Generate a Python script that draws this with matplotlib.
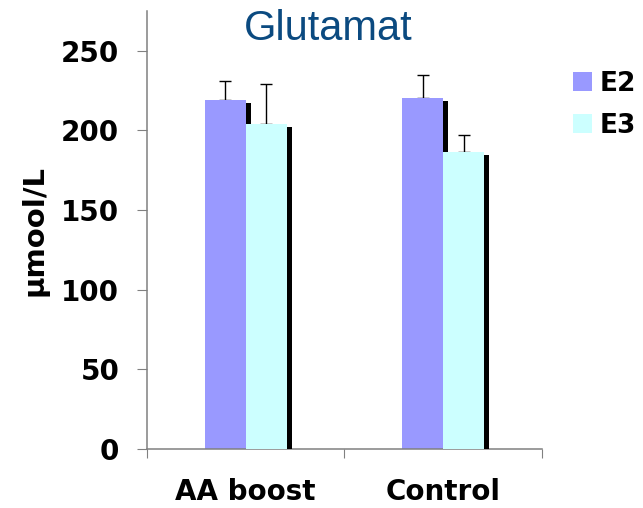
import matplotlib.pyplot as plt
import matplotlib.transforms as transforms
import numpy as np

# Data
categories = ['AA boost', 'Control']
series = ['E2', 'E3']
e2_values = [219, 220.5]
e3_values = [204, 186.5]
e2_err = [12, 14.5]
e3_err = [25, 10.5]
colors = ['#9999FF', '#CCFFFF']

fig = plt.figure(figsize=(6.43, 5.08), dpi=100)
ax = fig.add_axes([0.2286, 0.1161, 0.6143, 0.8622])

x = np.arange(len(categories))
width = 0.208

# Shadow offset: a few pixels right and down
shadow = ax.transData + transforms.ScaledTranslation(5 / 100, -3 / 100, fig.dpi_scale_trans)

for i, (vals, errs, col) in enumerate([(e2_values, e2_err, colors[0]), (e3_values, e3_err, colors[1])]):
    pos = x + (i - 0.5) * width
    ax.bar(pos, vals, width, color='black', transform=shadow, zorder=1 + 2 * i)
    ax.bar(pos, vals, width, color=col, label=series[i], zorder=2 + 2 * i)
    ax.errorbar(pos, vals, yerr=[np.zeros(len(vals)), errs], fmt='none',
                ecolor='black', elinewidth=1, capsize=4, capthick=1, zorder=1.5 + 2 * i)

ax.set_xlim(-0.5, 1.5)
ax.set_ylim(0, 275)
ax.set_yticks([0, 50, 100, 150, 200, 250])

# Tick marks between categories, labels at category centres
ax.set_xticks([-0.5, 0.5, 1.5])
ax.set_xticklabels([])
ax.set_xticks(x, minor=True)
ax.set_xticklabels(categories, minor=True)
ax.tick_params(axis='x', which='minor', length=0, pad=21)
ax.tick_params(axis='x', which='major', length=6.5, direction='out', color='#808080')
ax.tick_params(axis='y', length=7, direction='out', color='#808080', pad=13)

for lab in ax.get_xticklabels(minor=True) + ax.get_yticklabels():
    lab.set_fontsize(20)
    lab.set_fontweight('bold')
    lab.set_family('DejaVu Sans')

for s in ['top', 'right']:
    ax.spines[s].set_visible(False)
for s in ['left', 'bottom']:
    ax.spines[s].set_color('#808080')
    ax.spines[s].set_linewidth(1.1)

ax.set_ylabel('μmool/L', fontsize=21, fontweight='bold', labelpad=9)

fig.text(0.510, 0.921, 'Glutamat', ha='center', va='baseline', fontsize=30,
         color='#0B4A80', family='Liberation Sans')

fig.legend(loc='upper left', bbox_to_anchor=(0.891, 0.860), frameon=False,
           prop={'weight': 'bold', 'size': 19}, handlelength=0.72, handleheight=0.72,
           handletextpad=0.3, labelspacing=0.6, borderaxespad=0, borderpad=0)

fig.savefig('out.png', dpi=100)
